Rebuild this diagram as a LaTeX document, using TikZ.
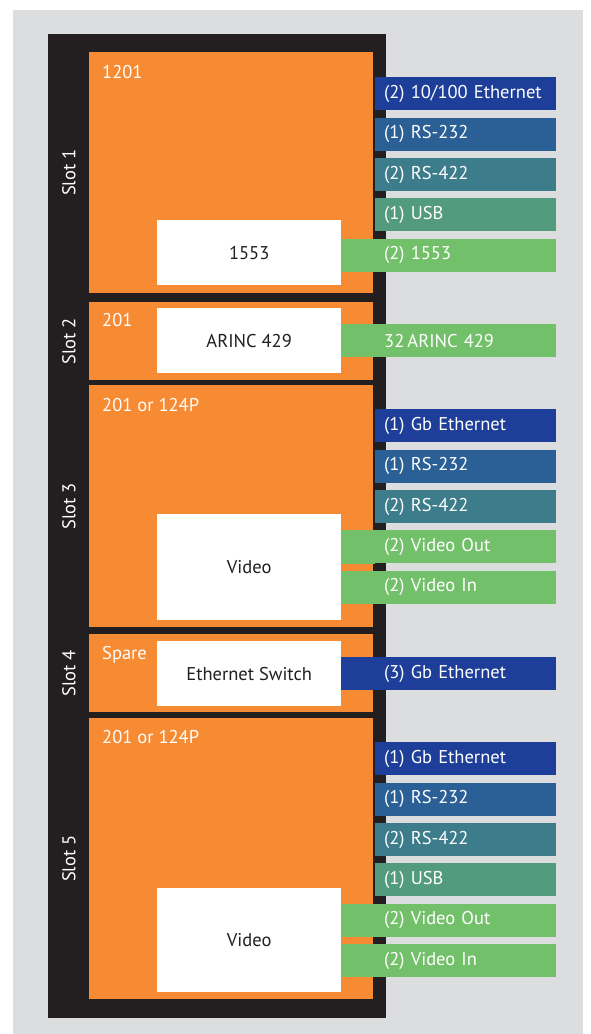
\documentclass[tikz,border=0pt]{standalone}
\usepackage{fontspec}
\setmainfont{PT Sans}
\usepackage{xcolor}
\usepackage{tikz}
\usetikzlibrary{positioning,calc}

\definecolor{cgray}{HTML}{DCDDDE}
\definecolor{cblack}{HTML}{231F20}
\definecolor{corange}{HTML}{F68B34}
\definecolor{cnavy}{HTML}{1D3F9A}
\definecolor{csteel}{HTML}{2B6096}
\definecolor{cteal}{HTML}{3D7D8B}
\definecolor{csea}{HTML}{529B7E}
\definecolor{cgreen}{HTML}{73C06A}
\definecolor{cink}{HTML}{231F20}

\begin{document}
\begin{tikzpicture}[
    x=1pt, y=-1pt,
    node distance=7pt and 7pt,
    sl/.style={rectangle, fill=corange, anchor=north west, inner sep=0pt, minimum width=284pt},
    wb/.style={rectangle, fill=white, anchor=north west, inner sep=0pt, minimum width=184pt, text=cink, font=\fontsize{18.5}{22}\selectfont},
    pt/.style={rectangle, inner xsep=9pt, inner ysep=0pt, text width=163pt, minimum height=33pt, align=left, text=white, font=\fontsize{18.5}{22}\selectfont},
    tag/.style={anchor=base west, inner sep=0pt, text=white, font=\fontsize{18.5}{22}\selectfont},
    sn/.style={rotate=90, inner sep=0pt, text=white, font=\fontsize{18.5}{22}\selectfont}
]
    \useasboundingbox (0,0) rectangle (590,1034);
    \fill [cgray] (13,10) rectangle (583,1034);
    \fill [cblack] (48,34) rectangle (386,1018);

    % slots
    \node [sl, minimum height=241pt] (s1) at (89,52) {};
    \node [sl, minimum height=78pt] (s2) at (89,302) {};
    \node [sl, minimum height=242pt] (s3) at (89,385) {};
    \node [sl, minimum height=78pt] (s4) at (89,634) {};
    \node [sl, minimum height=281pt] (s5) at (89,718) {};

    \node [sn] (t1) at ([xshift=-20pt]s1.west) {Slot 1};
    \node [sn] (t2) at ([xshift=-20pt]s2.west) {Slot 2};
    \node [sn] (t3) at ([xshift=-20pt]s3.west) {Slot 3};
    \node [sn] (t4) at ([xshift=-20pt]s4.west) {Slot 4};
    \node [sn] (t5) at ([xshift=-20pt]s5.west) {Slot 5};

    \node [tag] (c1) at ([xshift=13pt, yshift=-26pt]s1.north west) {1201};
    \node [tag] (c2) at ([xshift=13pt, yshift=-24pt]s2.north west) {201};
    \node [tag] (c3) at ([xshift=13pt, yshift=-26pt]s3.north west) {201 or 124P};
    \node [tag] (c4) at ([xshift=13pt, yshift=-25pt]s4.north west) {Spare};
    \node [tag] (c5) at ([xshift=13pt, yshift=-25pt]s5.north west) {201 or 124P};

    % modules
    \node [wb, minimum height=65pt] (w1) at (157,220) {1553};
    \node [wb, minimum height=65pt] (w2) at (157,308) {ARINC 429};
    \node [wb, minimum height=106pt] (w3) at (157,514) {Video};
    \node [wb, minimum height=65pt] (w4) at (157,641) {Ethernet Switch};
    \node [wb, minimum height=104pt] (w5) at (157,888) {Video};

    % slot 1 ports
    \node [pt, fill=cnavy, anchor=north west] (p11) at (375,77) {(2) 10/100 Ethernet};
    \node [pt, fill=csteel, below=of p11] (p12) {(1) RS-232};
    \node [pt, fill=cteal, below=of p12] (p13) {(2) RS-422};
    \node [pt, fill=csea, below=of p13] (p14) {(1) USB};
    \node [pt, fill=cgreen, below=of p14] (p15) {(2) 1553};
    \fill [cgreen] (w1.east |- p15.north) rectangle (p15.south west);

    % slot 2 ports
    \node [pt, fill=cgreen, anchor=north west] (p21) at (375,324) {32\,ARINC 429};
    \fill [cgreen] (w2.east |- p21.north) rectangle (p21.south west);

    % slot 3 ports
    \node [pt, fill=cnavy, anchor=north west] (p31) at (375,409) {(1) Gb Ethernet};
    \node [pt, fill=csteel, below=of p31] (p32) {(1) RS-232};
    \node [pt, fill=cteal, below=of p32] (p33) {(2) RS-422};
    \node [pt, fill=cgreen, below=of p33] (p34) {(2) Video Out};
    \node [pt, fill=cgreen, below=of p34] (p35) {(2) Video In};
    \fill [cgreen] (w3.east |- p34.north) rectangle (p34.south west);
    \fill [cgreen] (w3.east |- p35.north) rectangle (p35.south west);

    % slot 4 ports
    \node [pt, fill=cnavy, anchor=north west] (p41) at (375,657) {(3) Gb Ethernet};
    \fill [cnavy] (w4.east |- p41.north) rectangle (p41.south west);

    % slot 5 ports
    \node [pt, fill=cnavy, anchor=north west] (p51) at (375,742) {(1) Gb Ethernet};
    \node [pt, fill=csteel, below=of p51] (p52) {(1) RS-232};
    \node [pt, fill=cteal, below=of p52] (p53) {(2) RS-422};
    \node [pt, fill=csea, below=of p53] (p54) {(1) USB};
    \node [pt, fill=cgreen, below=of p54] (p55) {(2) Video Out};
    \node [pt, fill=cgreen, below=of p55] (p56) {(2) Video In};
    \fill [cgreen] (w5.east |- p55.north) rectangle (p55.south west);
    \fill [cgreen] (w5.east |- p56.north) rectangle (p56.south west);
\end{tikzpicture}
\end{document}
